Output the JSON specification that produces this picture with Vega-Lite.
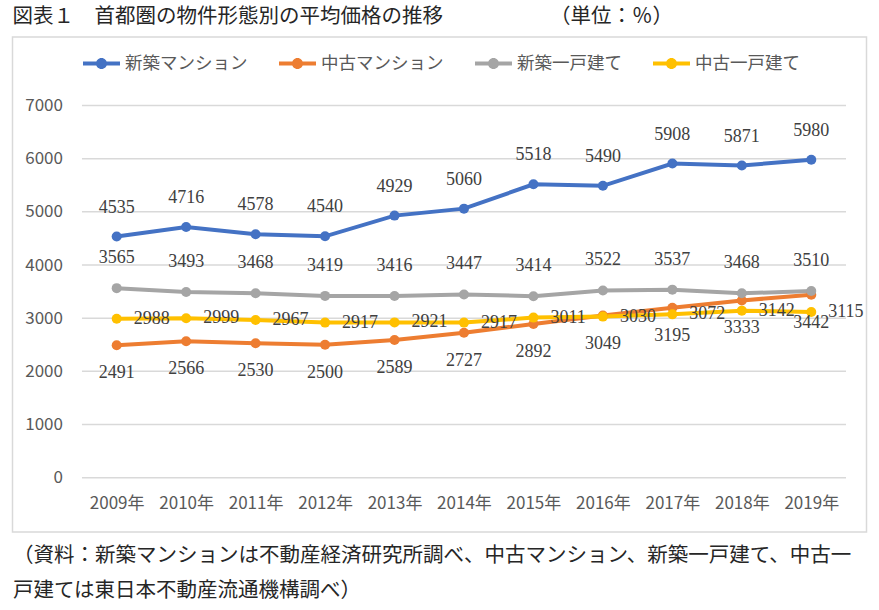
{
  "$schema": "https://vega.github.io/schema/vega-lite/v6.json",
  "width": 854,
  "height": 495,
  "autosize": {"type": "none"},
  "padding": {"left": 12.5, "top": 37, "right": 12.5, "bottom": 78},
  "background": "white",
  "config": {
    "view": {"stroke": "#d9d9d9", "strokeWidth": 1.5},
    "font": "Noto Sans CJK JP"
  },
  "title": {
    "text": "図表１　首都圏の物件形態別の平均価格の推移　　　　　  （単位：％）",
    "anchor": "start",
    "frame": "group",
    "font": "Noto Sans CJK JP",
    "fontSize": 20.5,
    "fontWeight": "normal",
    "color": "#262626",
    "offset": 10
  },
  "datasets": {
    "grid": [{"v": 0}, {"v": 1000}, {"v": 2000}, {"v": 3000}, {"v": 4000}, {"v": 5000}, {"v": 6000}, {"v": 7000}],
    "main": [
      {"year": 2009, "series": "新築マンション", "value": 4535},
      {"year": 2010, "series": "新築マンション", "value": 4716},
      {"year": 2011, "series": "新築マンション", "value": 4578},
      {"year": 2012, "series": "新築マンション", "value": 4540},
      {"year": 2013, "series": "新築マンション", "value": 4929},
      {"year": 2014, "series": "新築マンション", "value": 5060},
      {"year": 2015, "series": "新築マンション", "value": 5518},
      {"year": 2016, "series": "新築マンション", "value": 5490},
      {"year": 2017, "series": "新築マンション", "value": 5908},
      {"year": 2018, "series": "新築マンション", "value": 5871},
      {"year": 2019, "series": "新築マンション", "value": 5980},
      {"year": 2009, "series": "中古マンション", "value": 2491},
      {"year": 2010, "series": "中古マンション", "value": 2566},
      {"year": 2011, "series": "中古マンション", "value": 2530},
      {"year": 2012, "series": "中古マンション", "value": 2500},
      {"year": 2013, "series": "中古マンション", "value": 2589},
      {"year": 2014, "series": "中古マンション", "value": 2727},
      {"year": 2015, "series": "中古マンション", "value": 2892},
      {"year": 2016, "series": "中古マンション", "value": 3049},
      {"year": 2017, "series": "中古マンション", "value": 3195},
      {"year": 2018, "series": "中古マンション", "value": 3333},
      {"year": 2019, "series": "中古マンション", "value": 3442},
      {"year": 2009, "series": "新築一戸建て", "value": 3565},
      {"year": 2010, "series": "新築一戸建て", "value": 3493},
      {"year": 2011, "series": "新築一戸建て", "value": 3468},
      {"year": 2012, "series": "新築一戸建て", "value": 3419},
      {"year": 2013, "series": "新築一戸建て", "value": 3416},
      {"year": 2014, "series": "新築一戸建て", "value": 3447},
      {"year": 2015, "series": "新築一戸建て", "value": 3414},
      {"year": 2016, "series": "新築一戸建て", "value": 3522},
      {"year": 2017, "series": "新築一戸建て", "value": 3537},
      {"year": 2018, "series": "新築一戸建て", "value": 3468},
      {"year": 2019, "series": "新築一戸建て", "value": 3510},
      {"year": 2009, "series": "中古一戸建て", "value": 2988},
      {"year": 2010, "series": "中古一戸建て", "value": 2999},
      {"year": 2011, "series": "中古一戸建て", "value": 2967},
      {"year": 2012, "series": "中古一戸建て", "value": 2917},
      {"year": 2013, "series": "中古一戸建て", "value": 2921},
      {"year": 2014, "series": "中古一戸建て", "value": 2917},
      {"year": 2015, "series": "中古一戸建て", "value": 3011},
      {"year": 2016, "series": "中古一戸建て", "value": 3030},
      {"year": 2017, "series": "中古一戸建て", "value": 3072},
      {"year": 2018, "series": "中古一戸建て", "value": 3142},
      {"year": 2019, "series": "中古一戸建て", "value": 3115}
    ]
  },
  "layer": [
    {
      "data": {"name": "grid"},
      "mark": {"type": "rule", "color": "#d9d9d9", "strokeWidth": 1.5},
      "encoding": {
        "y": {
          "field": "v", "type": "quantitative",
          "scale": {"domain": [-1021, 8288], "nice": false, "zero": false},
          "axis": {
            "values": [0, 1000, 2000, 3000, 4000, 5000, 6000, 7000],
            "format": "d",
            "domain": false, "ticks": false, "tickSize": 0, "grid": false,
            "offset": -54, "labelPadding": 4,
            "labelFont": "Noto Sans CJK JP", "labelFontSize": 17, "labelColor": "#595959",
            "labelBaseline": "middle",
            "title": null
          }
        },
        "x": {
          "datum": 2008.5, "type": "quantitative",
          "scale": {"domain": [2007.5, 2019.795], "nice": false, "zero": false},
          "axis": {
            "values": [2009, 2010, 2011, 2012, 2013, 2014, 2015, 2016, 2017, 2018, 2019],
            "format": "d",
            "labelExpr": "datum.label + '年'",
            "domain": false, "ticks": false, "tickSize": 0, "grid": false,
            "offset": -29, "labelPadding": 0, "labelBaseline": "middle",
            "labelFlush": false, "labelOverlap": false,
            "labelFont": "Noto Sans CJK JP", "labelFontSize": 17, "labelColor": "#595959",
            "title": ["（資料：新築マンションは不動産経済研究所調べ、中古マンション、新築一戸建て、中古一", "戸建ては東日本不動産流通機構調べ）"],
            "titleX": 0, "titleY": 42,
            "titleAlign": "left", "titleAnchor": "start", "titleBaseline": "top",
            "titleFont": "Noto Sans CJK JP", "titleFontSize": 20.5, "titleFontWeight": "normal",
            "titleColor": "#262626", "titleLineHeight": 35
          }
        },
        "x2": {"datum": 2019.5}
      }
    },
    {
      "data": {"name": "main"},
      "mark": {"type": "line", "strokeWidth": 4},
      "encoding": {
        "x": {"field": "year", "type": "quantitative"},
        "y": {"field": "value", "type": "quantitative"},
        "color": {
          "field": "series", "type": "nominal",
          "scale": {
            "domain": ["新築マンション", "中古マンション", "新築一戸建て", "中古一戸建て"],
            "range": ["#4472C4", "#ED7D31", "#A5A5A5", "#FFC000"]
          },
          "legend": {
            "orient": "none", "legendX": 70.5, "legendY": 8,
            "direction": "horizontal", "columns": 4, "title": null,
            "symbolType": "M-1,-0.11H1V0.11H-1Z M0.3,0A0.3,0.3,0,1,1,-0.3,0A0.3,0.3,0,1,1,0.3,0Z",
            "symbolSize": 1369, "symbolStrokeWidth": 0,
            "labelFont": "Noto Sans CJK JP", "labelFontSize": 17.5, "labelColor": "#595959",
            "labelOffset": 5, "columnPadding": 31, "padding": 0,
            "encode": {"symbols": {"update": {"fill": {"scale": "color", "field": "value"}, "strokeWidth": {"value": 0}, "opacity": {"value": 1}}}}
          }
        },
        "order": {"field": "year", "type": "quantitative"}
      }
    },
    {
      "data": {"name": "main"},
      "mark": {"type": "point", "filled": true, "size": 100, "opacity": 1},
      "encoding": {
        "x": {"field": "year", "type": "quantitative"},
        "y": {"field": "value", "type": "quantitative"},
        "color": {"field": "series", "type": "nominal"}
      }
    },
    {
      "data": {"name": "main"},
      "transform": [{"filter": "datum.series === '新築マンション'"}],
      "mark": {"type": "text", "font": "Liberation Serif", "fontSize": 18, "color": "#404040", "baseline": "middle", "align": "center", "dy": -29},
      "encoding": {
        "x": {"field": "year", "type": "quantitative"},
        "y": {"field": "value", "type": "quantitative"},
        "text": {"field": "value", "type": "quantitative", "format": "d"}
      }
    },
    {
      "data": {"name": "main"},
      "transform": [{"filter": "datum.series === '新築一戸建て'"}],
      "mark": {"type": "text", "font": "Liberation Serif", "fontSize": 18, "color": "#404040", "baseline": "middle", "align": "center", "dy": -30},
      "encoding": {
        "x": {"field": "year", "type": "quantitative"},
        "y": {"field": "value", "type": "quantitative"},
        "text": {"field": "value", "type": "quantitative", "format": "d"}
      }
    },
    {
      "data": {"name": "main"},
      "transform": [{"filter": "datum.series === '中古マンション'"}],
      "mark": {"type": "text", "font": "Liberation Serif", "fontSize": 18, "color": "#404040", "baseline": "middle", "align": "center", "dy": 28},
      "encoding": {
        "x": {"field": "year", "type": "quantitative"},
        "y": {"field": "value", "type": "quantitative"},
        "text": {"field": "value", "type": "quantitative", "format": "d"}
      }
    },
    {
      "data": {"name": "main"},
      "transform": [{"filter": "datum.series === '中古一戸建て'"}],
      "mark": {"type": "text", "font": "Liberation Serif", "fontSize": 18, "color": "#404040", "baseline": "middle", "align": "left", "dx": 17},
      "encoding": {
        "x": {"field": "year", "type": "quantitative"},
        "y": {"field": "value", "type": "quantitative"},
        "text": {"field": "value", "type": "quantitative", "format": "d"}
      }
    }
  ]
}
